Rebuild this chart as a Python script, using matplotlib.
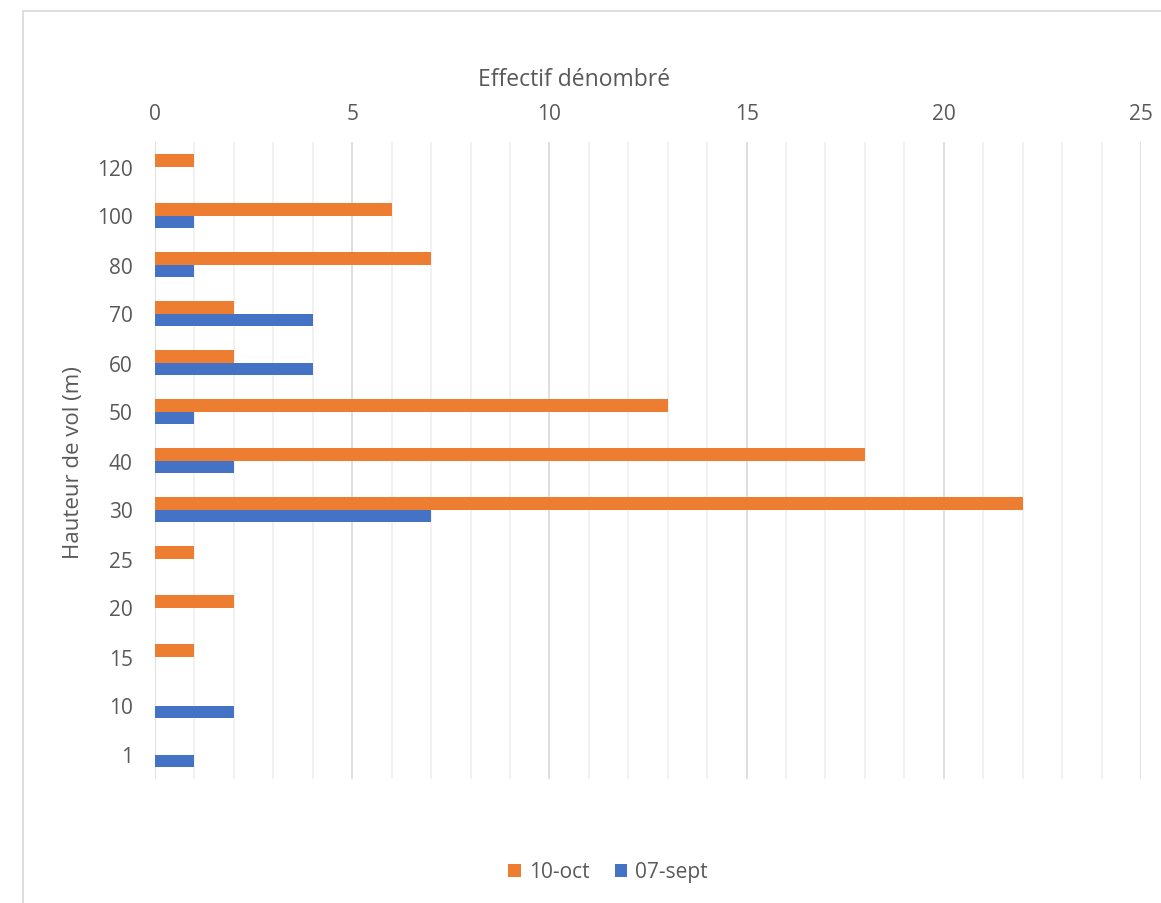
import numpy as np
import matplotlib.pyplot as plt
from matplotlib.patches import Rectangle

# data (bottom to top)
hauteurs = ["1", "10", "15", "20", "25", "30", "40", "50", "60", "70", "80", "100", "120"]
oct_10 = [0, 0, 1, 2, 1, 22, 18, 13, 2, 2, 7, 6, 1]
sept_07 = [1, 2, 0, 0, 0, 7, 2, 1, 4, 4, 1, 1, 0]

orange = "#ED7D31"
blue = "#4472C4"
txt = "#595959"
plt.rcParams['font.family'] = ['Open Sans', 'DejaVu Sans']

fig = plt.figure(figsize=(11.61, 9.04), dpi=100)
# chart frame
fig.patches.append(Rectangle((23 / 1161, -0.01), 1.1, 1 - 12 / 904 + 0.01, transform=fig.transFigure,
                             fill=False, edgecolor="#d9d9d9", linewidth=1.2))

ax = fig.add_axes([155 / 1161, 1 - 780 / 904, (1141 - 155) / 1161, (780 - 143) / 904])

y = np.arange(len(hauteurs))
h = 0.265
ax.barh(y + h / 2, oct_10, height=h, color=orange, label="10-oct", zorder=3)
ax.barh(y - h / 2, sept_07, height=h, color=blue, label="07-sept", zorder=3)

ax.set_xlim(0, 25)
ax.set_ylim(-0.5, len(hauteurs) - 0.5)
ax.set_xticks(np.arange(0, 26, 5))
ax.set_xticks(np.arange(0, 26, 1), minor=True)
ax.xaxis.tick_top()
ax.set_yticks(y)
ax.set_yticklabels(hauteurs)
ax.tick_params(axis="both", which="both", length=0, labelsize=15, labelcolor=txt)
ax.tick_params(axis="x", pad=13)
ax.tick_params(axis="y", pad=16)
ax.grid(axis="x", which="major", color="#d9d9d9", linewidth=1.2, zorder=0)
ax.grid(axis="x", which="minor", color="#efefef", linewidth=1.2, zorder=0)
for s in ax.spines.values():
    s.set_visible(False)

fig.text(574 / 1161, 1 - 80 / 904, "Effectif dénombré", ha="center", va="center", fontsize=16.5, color=txt)
fig.text(73 / 1161, 1 - 463 / 904, "Hauteur de vol (m)", ha="center", va="center", rotation=90,
         fontsize=16, color=txt)

fig.legend(loc="center", bbox_to_anchor=(608 / 1161, 1 - 873 / 904), ncol=2, frameon=False,
           fontsize=15, labelcolor=txt, handlelength=0.6, handleheight=0.6, handletextpad=0.4,
           columnspacing=1.2)

fig.savefig("out.png", dpi=100)
